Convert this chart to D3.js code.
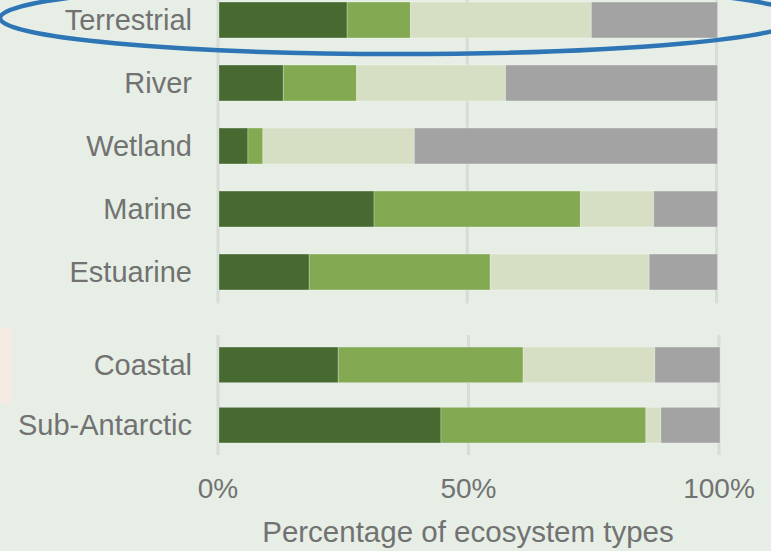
<html>

<head>
    <style>
        body {
            margin: 0;
            background: #e7eee6;
        }

        text {
            font-family: "Liberation Sans", Arial, sans-serif;
            fill: #727272;
        }
    </style>
</head>

<body>
    <svg id="container" height="551" width="771">
        <rect x="0" y="328" width="11" height="76" fill="#f6ebe4"></rect>
        <g id="top"></g>
        <g id="bottom"></g>
        <g id="xAxis"></g>
        <g id="marks"></g>
    </svg>
</body>
<script src="https://cdn.jsdelivr.net/npm/d3@7"></script>
<script>
    // categories
    let topGroups = ["Terrestrial", "River", "Wetland", "Marine", "Estuarine"]
    let bottomGroups = ["Coastal", "Sub-Antarctic"]
    let seriesKeys = ["dark", "mid", "light", "grey"]

    // series values (% of ecosystem types)
    let dark = [25.7, 12.9, 5.8, 31.1, 18.1, 23.8, 44.3]
    let mid = [12.7, 14.7, 3.0, 41.4, 36.3, 36.9, 40.9]
    let light = [36.3, 29.9, 30.4, 14.7, 31.9, 26.3, 3.0]
    let grey = [25.3, 42.5, 60.8, 12.8, 13.7, 13.0, 11.8]

    let ticks = [0, 50, 100]

    let svg = d3.select("#container")
    let allGroups = topGroups.concat(bottomGroups)
    let data = allGroups.map((g, i) => ({
        group: g,
        dark: dark[i],
        mid: mid[i],
        light: light[i],
        grey: grey[i]
    }))

    let colorScale = d3.scaleOrdinal()
        .domain(seriesKeys)
        .range(["#476a31", "#83a953", "#d6dfc4", "#a3a3a3"])

    let stack = d3.stack().keys(seriesKeys)

    function drawPanel(sel, groups, xRange, yRange, pIn, pOut) {
        let x = d3.scaleLinear().domain([0, 100]).range(xRange)
        let y = d3.scaleBand().domain(groups).range(yRange)
            .paddingInner(pIn).paddingOuter(pOut)

        // gridlines
        sel.selectAll(".grid")
            .data(ticks)
            .enter().append("line")
            .attr("x1", d => x(d))
            .attr("x2", d => x(d))
            .attr("y1", yRange[0])
            .attr("y2", yRange[1])
            .style("stroke", "#d9dbd9")
            .style("stroke-width", 3)

        let rows = data.filter(d => groups.includes(d.group))
        let layers = stack(rows)

        sel.selectAll(".layer")
            .data(layers)
            .enter().append("g")
            .style("fill", d => colorScale(d.key))
            .selectAll("rect")
            .data(d => d)
            .enter().append("rect")
            .attr("x", d => x(d[0]) + 1)
            .attr("width", d => x(d[1]) - x(d[0]))
            .attr("y", d => y(d.data.group))
            .attr("height", y.bandwidth())
            .style("stroke", "rgba(255,255,255,0.25)")
            .style("stroke-width", 1)

        sel.selectAll(".label")
            .data(groups)
            .enter().append("text")
            .attr("x", 192)
            .attr("y", d => y(d) + y.bandwidth() / 2)
            .attr("dy", "0.35em")
            .style("text-anchor", "end")
            .style("font-size", "29px")
            .text(d => d)
        return x
    }

    drawPanel(d3.select("#top"), topGroups, [218, 716.5], [-11.5, 303.5], 0.43, 0.215)
    let xb = drawPanel(d3.select("#bottom"), bottomGroups, [218, 719], [335, 455], 0.41, 0.2)

    // tick labels
    d3.select("#xAxis").selectAll("text")
        .data(ticks)
        .enter().append("text")
        .attr("x", d => xb(d))
        .attr("y", 498)
        .style("text-anchor", "middle")
        .style("font-size", "28px")
        .text(d => d + "%")

    d3.select("#xAxis").append("text")
        .attr("x", 468)
        .attr("y", 542)
        .style("text-anchor", "middle")
        .style("font-size", "29.5px")
        .text("Percentage of ecosystem types")

    // highlight around Terrestrial
    d3.select("#marks").append("ellipse")
        .attr("cx", 400)
        .attr("cy", 18)
        .attr("rx", 400)
        .attr("ry", 36)
        .style("fill", "none")
        .style("stroke", "#2e75b6")
        .style("stroke-width", 4.5)
</script>

</html>
